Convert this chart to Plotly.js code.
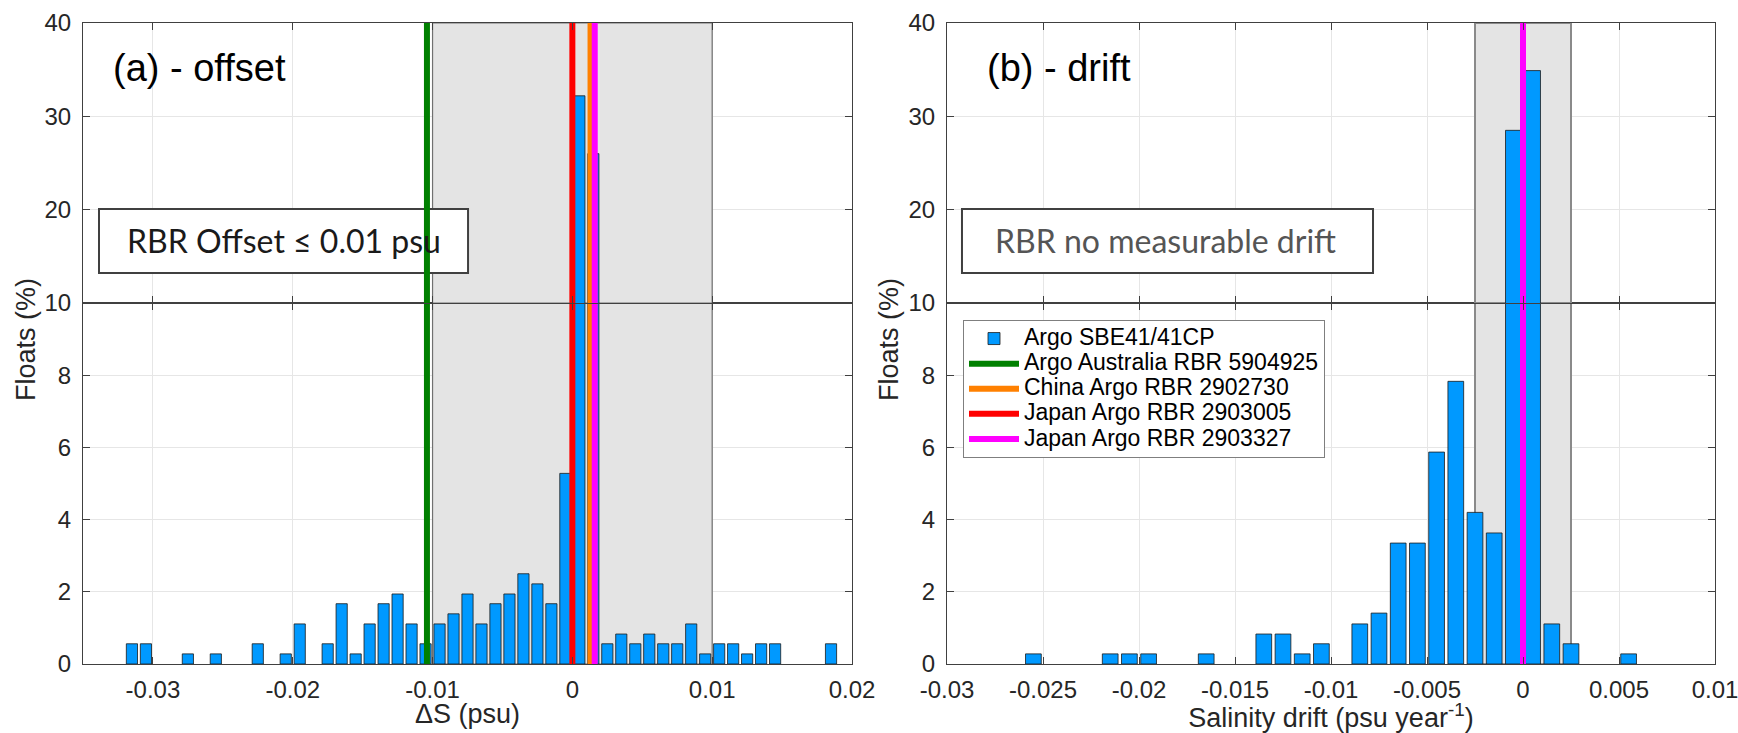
<!DOCTYPE html>
<html><head><meta charset="utf-8">
<script src="https://cdn.plot.ly/plotly-3.0.1.min.js"></script>
<style>html,body{margin:0;padding:0;background:#fff;} #chart{width:1738px;height:733px;}</style>
</head><body><div id="chart"></div>
<script>
// ---- data ----
const offsetBinCenters = [-0.0315,-0.0305,-0.0275,-0.0255,-0.0225,-0.0205,-0.0195,-0.0175,-0.0165,-0.0155,-0.0145,-0.0135,-0.0125,-0.0115,-0.0105,-0.0095,-0.0085,-0.0075,-0.0065,-0.0055,-0.0045,-0.0035,-0.0025,-0.0015,-0.0005,0.0005,0.0015,0.0025,0.0035,0.0045,0.0055,0.0065,0.0075,0.0085,0.0095,0.0105,0.0115,0.0125,0.0135,0.0145,0.0185];
const offsetPercent = [0.56,0.56,0.28,0.28,0.56,0.28,1.11,0.56,1.67,0.28,1.11,1.67,1.94,1.11,0.56,1.11,1.39,1.94,1.11,1.67,1.94,2.5,2.22,1.67,5.28,32.2,26.0,0.56,0.83,0.56,0.83,0.56,0.56,1.11,0.28,0.56,0.56,0.28,0.56,0.56,0.56];
const driftBinCenters = [-0.0255,-0.0215,-0.0205,-0.0195,-0.0165,-0.0135,-0.0125,-0.0115,-0.0105,-0.0085,-0.0075,-0.0065,-0.0055,-0.0045,-0.0035,-0.0025,-0.0015,-0.0005,0.0005,0.0015,0.0025,0.0055];
const driftPercent = [0.28,0.28,0.28,0.28,0.28,0.83,0.83,0.28,0.56,1.11,1.41,3.35,3.35,5.87,7.83,4.2,3.63,28.5,34.9,1.11,0.56,0.28];
const barName = 'Argo SBE41/41CP';
const rbrNames = ['Argo Australia RBR 5904925','China Argo RBR 2902730','Japan Argo RBR 2903005','Japan Argo RBR 2903327'];
const rbrColors = ['#008000','#FF8000','#FF0000','#FF00FF'];
const rbrOffset = [-0.0104, 0.0013, 0.0000, 0.0016];
const rbrDrift = [0, 0, 0, 0];
const offsetBand = [-0.01, 0.01];
const driftBand = [-0.0025, 0.0025];
const offsetTicks = [-0.03,-0.02,-0.01,0,0.01,0.02];
const offsetTickText = ['-0.03','-0.02','-0.01','0','0.01','0.02'];
const driftTicks = [-0.03,-0.025,-0.02,-0.015,-0.01,-0.005,0,0.005,0.01];
const driftTickText = ['-0.03','-0.025','-0.02','-0.015','-0.01','-0.005','0','0.005','0.01'];
const lowerTicks = [0,2,4,6,8,10];
const upperTicks = [20,30,40];
const lowerRange = [0,10];
const upperRange = [10,40];
const offsetRange = [-0.035,0.02];
const driftRange = [-0.03,0.01];

// ---- styling ----
const FONT = 'Liberation Sans, Arial, Helvetica, sans-serif';
const barColor = 'rgb(0,153,255)';
const W = 1738, H = 733;
const px = v => v / W, py = v => 1 - v / H;
const xL = [px(83), px(852)], xR = [px(947), px(1715)];
const yLow = [py(664), py(303)], yUp = [py(303), py(23)];
const frac = (r, f) => r[0] + f * (r[1] - r[0]);
const legName = s => '<span style="font-size:23px">' + s + '</span>';

function barTrace(x, y, xa, ya, w, show) {
  return {type:'bar', x:x, y:y, xaxis:xa, yaxis:ya, width:w, name:legName(barName), showlegend:show,
    marker:{color:barColor, line:{color:'#1a1a1a', width:0.8}}};
}
function lineTrace(v, i, xa, ya, yr, show) {
  return {type:'scatter', mode:'lines', x:[v, v], y:yr, xaxis:xa, yaxis:ya, name:legName(rbrNames[i]), showlegend:show,
    line:{color:rbrColors[i], width:6}};
}

const data = [];
data.push(barTrace(offsetBinCenters, offsetPercent, 'x', 'y', 0.0008, false));
data.push(barTrace(offsetBinCenters, offsetPercent, 'x3', 'y2', 0.0008, false));
rbrOffset.forEach((v,i) => data.push(lineTrace(v, i, 'x', 'y', lowerRange, false)));
rbrOffset.forEach((v,i) => data.push(lineTrace(v, i, 'x3', 'y2', upperRange, false)));
data.push(barTrace(driftBinCenters, driftPercent, 'x2', 'y3', 0.00082, true));
data.push(barTrace(driftBinCenters, driftPercent, 'x4', 'y4', 0.00082, false));
rbrDrift.forEach((v,i) => data.push(lineTrace(v, i, 'x2', 'y3', lowerRange, true)));
rbrDrift.forEach((v,i) => data.push(lineTrace(v, i, 'x4', 'y4', upperRange, false)));

const axBase = {showline:true, linecolor:'#404040', linewidth:1, mirror:'ticks', ticks:'inside', ticklen:7,
  tickwidth:1, tickcolor:'#404040', showgrid:true, gridcolor:'#e6e6e6', gridwidth:1, zeroline:false,
  automargin:false, fixedrange:true, ticklabeloverflow:'allow', tickfont:{family:FONT, size:24, color:'#262626'}};
const titleFont = {family:FONT, size:27, color:'#262626'};
const boxStyle = {type:'rect', layer:'between', fillcolor:'#fff', line:{color:'#404040', width:2}};

const layout = {
  width:W, height:H, margin:{l:0, r:0, t:0, b:0}, paper_bgcolor:'#fff', plot_bgcolor:'#fff',
  barmode:'overlay', showlegend:true, font:{family:FONT},
  xaxis: Object.assign({}, axBase, {domain:xL, range:offsetRange, anchor:'y', tickvals:offsetTicks, ticktext:offsetTickText, ticklabelstandoff:4}),
  xaxis3: Object.assign({}, axBase, {domain:xL, range:offsetRange, anchor:'y2', tickvals:offsetTicks, showticklabels:false}),
  yaxis: Object.assign({}, axBase, {domain:yLow, range:lowerRange, anchor:'x', tickvals:lowerTicks, ticklabelstandoff:6}),
  yaxis2: Object.assign({}, axBase, {domain:yUp, range:upperRange, anchor:'x3', tickvals:upperTicks, ticklabelstandoff:6}),
  xaxis2: Object.assign({}, axBase, {domain:xR, range:driftRange, anchor:'y3', tickvals:driftTicks, ticktext:driftTickText,
    ticklabelstandoff:4, title:{text:'Salinity drift (psu year<sup>-1</sup>)', font:titleFont, standoff:11}}),
  xaxis4: Object.assign({}, axBase, {domain:xR, range:driftRange, anchor:'y4', tickvals:driftTicks, showticklabels:false}),
  yaxis3: Object.assign({}, axBase, {domain:yLow, range:lowerRange, anchor:'x2', tickvals:lowerTicks, ticklabelstandoff:6}),
  yaxis4: Object.assign({}, axBase, {domain:yUp, range:upperRange, anchor:'x4', tickvals:upperTicks, ticklabelstandoff:6}),
  shapes: [
    {type:'rect', xref:'x', yref:'y', x0:offsetBand[0], x1:offsetBand[1], y0:lowerRange[0], y1:lowerRange[1], layer:'between', fillcolor:'#e4e4e4', line:{color:'#707070', width:1.2}},
    {type:'rect', xref:'x3', yref:'y2', x0:offsetBand[0], x1:offsetBand[1], y0:upperRange[0], y1:upperRange[1], layer:'between', fillcolor:'#e4e4e4', line:{color:'#707070', width:1.2}},
    {type:'rect', xref:'x2', yref:'y3', x0:driftBand[0], x1:driftBand[1], y0:lowerRange[0], y1:lowerRange[1], layer:'between', fillcolor:'#e4e4e4', line:{color:'#8a8a8a', width:2}},
    {type:'rect', xref:'x4', yref:'y4', x0:driftBand[0], x1:driftBand[1], y0:upperRange[0], y1:upperRange[1], layer:'between', fillcolor:'#e4e4e4', line:{color:'#8a8a8a', width:2}},
    Object.assign({}, boxStyle, {xref:'x3', yref:'y2', x0:frac(offsetRange,0.0208), x1:frac(offsetRange,0.5007), y0:frac(upperRange,0.1071), y1:frac(upperRange,0.3357)}),
    Object.assign({}, boxStyle, {xref:'x4', yref:'y4', x0:frac(driftRange,0.0195), x1:frac(driftRange,0.5547), y0:frac(upperRange,0.1071), y1:frac(upperRange,0.3357)})
  ],
  annotations: [
    {text:'(a) - offset', xref:'paper', yref:'paper', x:px(111), y:py(68), xanchor:'left', yanchor:'middle', showarrow:false, font:{family:FONT, size:38, color:'#000'}},
    {text:'(b) - drift', xref:'paper', yref:'paper', x:px(985), y:py(68), xanchor:'left', yanchor:'middle', showarrow:false, font:{family:FONT, size:38, color:'#000'}},
    {text:'RBR Offset ≤ 0.01 psu', xref:'paper', yref:'paper', x:px(283.5), y:py(241), xanchor:'center', yanchor:'middle', showarrow:false, font:{family:'Lato, Carlito, sans-serif', size:32, color:'#1a1a1a'}},
    {text:'RBR no measurable drift', xref:'paper', yref:'paper', x:px(1165.5), y:py(241), xanchor:'center', yanchor:'middle', showarrow:false, font:{family:'Lato, Carlito, sans-serif', size:32, color:'#555'}},
    {text:'Floats (%)', xref:'paper', yref:'paper', x:px(26), y:py(340), xanchor:'center', yanchor:'middle', textangle:-90, showarrow:false, font:titleFont},
    {text:'Floats (%)', xref:'paper', yref:'paper', x:px(889), y:py(340), xanchor:'center', yanchor:'middle', textangle:-90, showarrow:false, font:titleFont},
    {text:'ΔS (psu)', xref:'paper', yref:'paper', x:px(467), y:py(714), xanchor:'center', yanchor:'middle', showarrow:false, font:titleFont}
  ],
  legend: {x:px(963), y:py(320), xanchor:'left', yanchor:'top', bgcolor:'#fff', bordercolor:'#7f7f7f', borderwidth:1,
    font:{family:FONT, size:17, color:'#000'}, tracegroupgap:0, itemwidth:50, traceorder:'normal'}
};

Plotly.newPlot('chart', data, layout, {staticPlot:true, displayModeBar:false});
</script>
</body></html>
